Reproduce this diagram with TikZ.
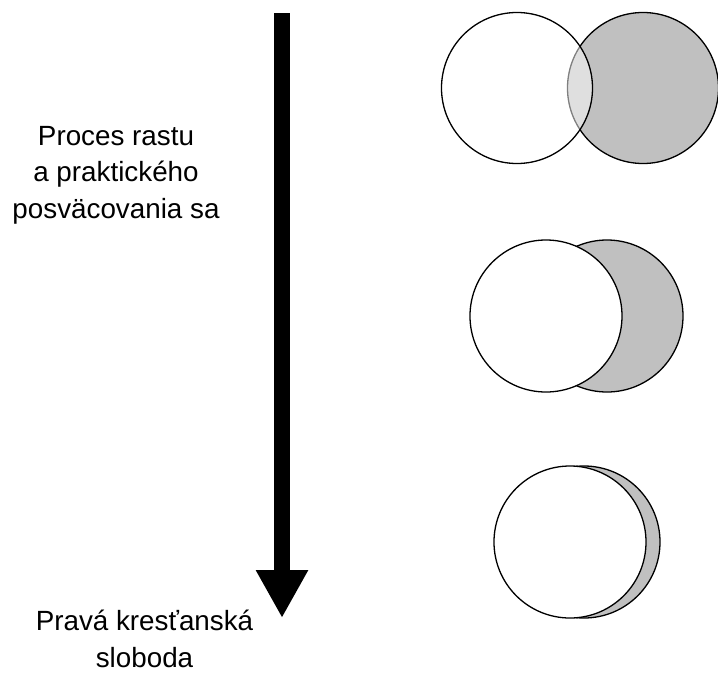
\documentclass[tikz,border=0pt]{standalone}
\usepackage{fontspec}
\setmainfont{Liberation Sans}
\usetikzlibrary{arrows.meta}
\definecolor{moongray}{RGB}{192,192,192}
\begin{document}
\begin{tikzpicture}
            [x=1pt,y=-1pt,line width=1.3pt,
             every node/.style={font=\fontsize{27.8}{36.5}\selectfont},
             disc/.style={circle,draw,inner sep=0pt,minimum size=152pt}]
            \useasboundingbox (0,0) rectangle (718,673);
            % the long arrow
            \coordinate (start) at (282,13);
            \coordinate (end) at (282,618);
            \draw [line width=16pt,-{Triangle[width=49pt,length=48pt]}] (start) -- (end);
            \node [align=center,anchor=base,inner sep=0pt] (growth) at (116,218) {Proces rastu\\a praktického\\posväcovania sa};
            \node [align=center,anchor=base,inner sep=0pt] (freedom) at (144.5,667) {Pravá kresťanská\\sloboda};
            % circles, top to bottom
            \node [disc,fill=moongray,minimum size=151pt] (shadowA) at (643,88) {};
            \node [disc,fill=white,fill opacity=0.5,minimum size=151pt] (selfA) at (517,88) {};
            \node [disc,fill=moongray] (shadowB) at (607,316) {};
            \node [disc,fill=white] (selfB) at (546,316) {};
            \node [disc,fill=moongray] (shadowC) at (584,542) {};
            \node [disc,fill=white] (selfC) at (570,542) {};
        \end{tikzpicture}
\end{document}
